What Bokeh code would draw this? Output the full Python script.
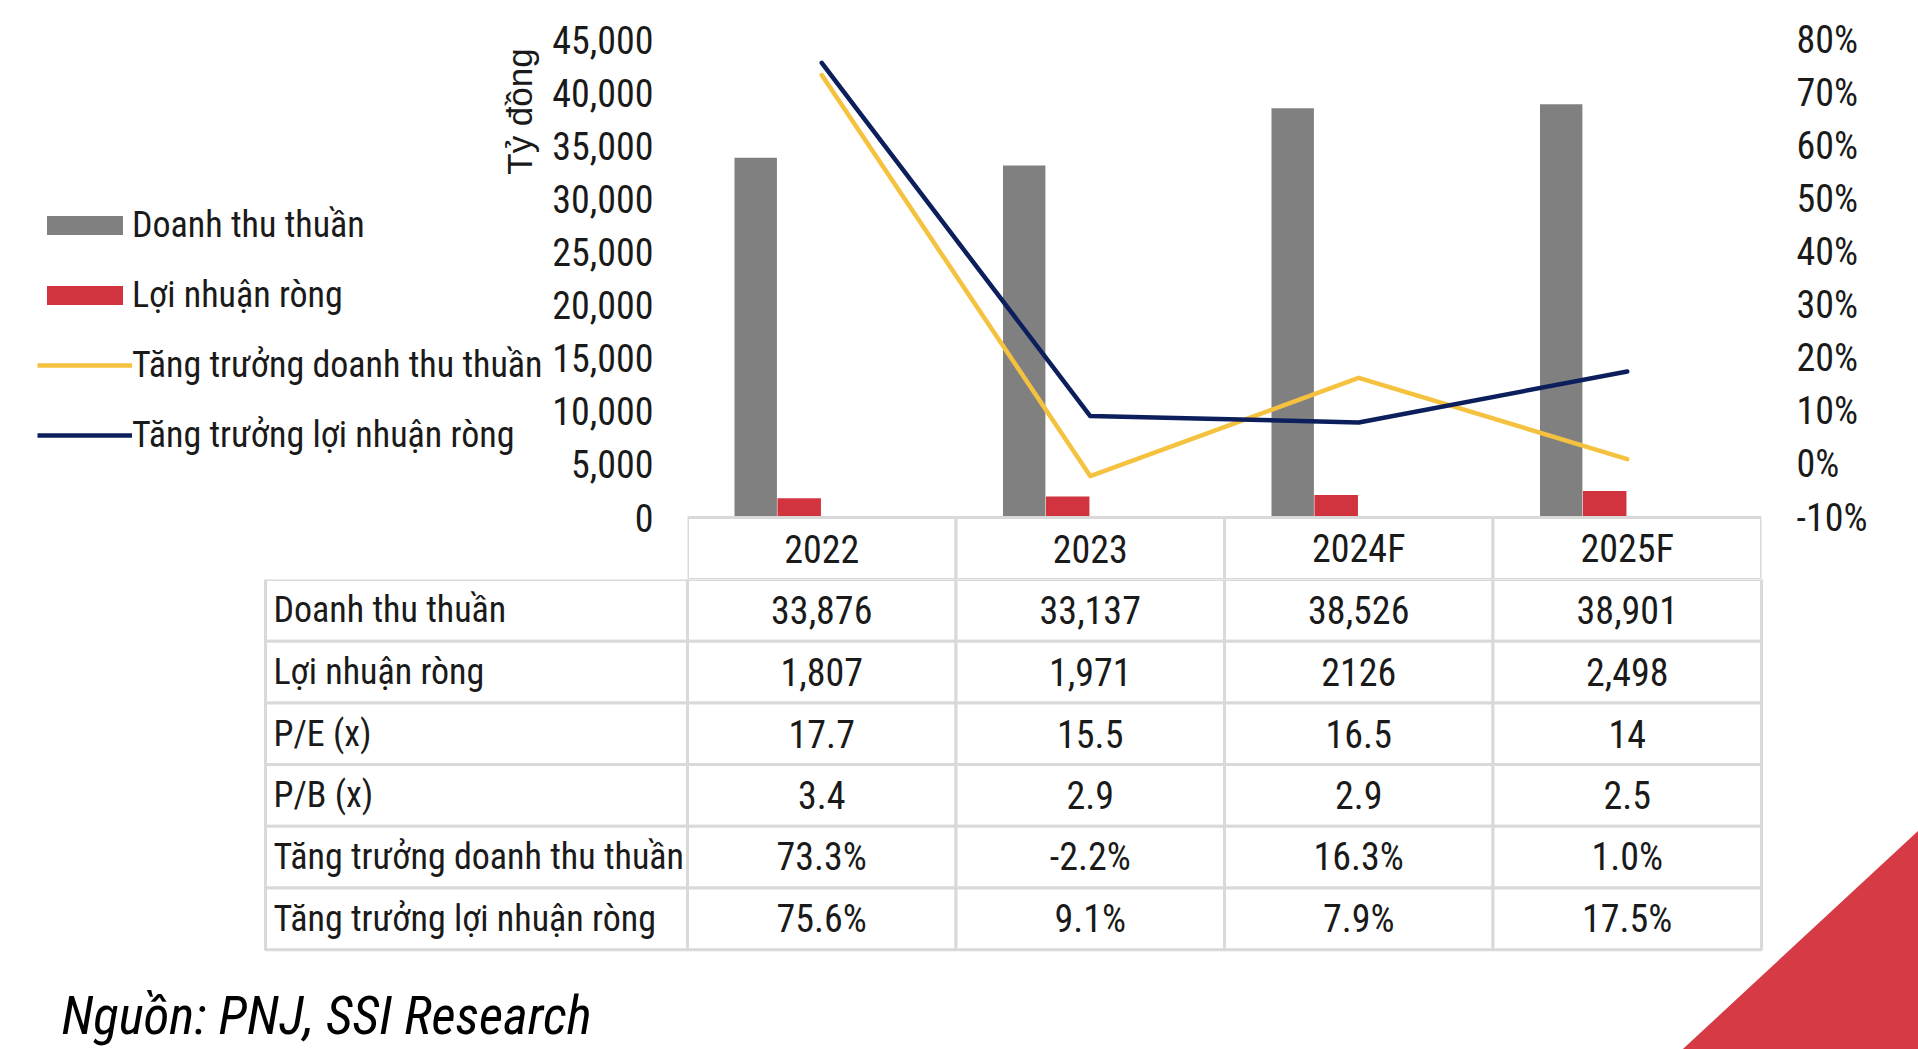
from math import pi
from bokeh.plotting import figure
from bokeh.models import (Range1d, FactorRange, LinearAxis, FixedTicker, NumeralTickFormatter,
                          PrintfTickFormatter, Legend, LegendItem, ColumnDataSource)
from bokeh.transform import dodge
from bokeh.layouts import row
from bokeh.core.properties import value
from bokeh.embed import file_html
from bokeh.resources import INLINE

# ---------------- data ----------------
years = ["2022", "2023", "2024F", "2025F"]
revenue = [33876, 33137, 38526, 38901]          # Doanh thu thuần (tỷ đồng)
profit = [1807, 1971, 2126, 2498]               # Lợi nhuận ròng (tỷ đồng)
rev_growth = [73.3, -2.2, 16.3, 1.0]            # %
profit_growth = [75.6, 9.1, 7.9, 17.5]          # %
left_ticks = [0, 5000, 10000, 15000, 20000, 25000, 30000, 35000, 40000, 45000]
right_ticks = [-10, 0, 10, 20, 30, 40, 50, 60, 70, 80]

series_names = ["Doanh thu thuần", "Lợi nhuận ròng",
                "Tăng trưởng doanh thu thuần", "Tăng trưởng lợi nhuận ròng"]
row_labels = ["Doanh thu thuần", "Lợi nhuận ròng", "P/E (x)", "P/B (x)",
              "Tăng trưởng doanh thu thuần", "Tăng trưởng lợi nhuận ròng"]
row_values = [
    ["33,876", "33,137", "38,526", "38,901"],
    ["1,807", "1,971", "2126", "2,498"],
    ["17.7", "15.5", "16.5", "14"],
    ["3.4", "2.9", "2.9", "2.5"],
    ["73.3%", "-2.2%", "16.3%", "1.0%"],
    ["75.6%", "9.1%", "7.9%", "17.5%"],
]
source_text = "Nguồn: PNJ, SSI Research"
y_title = "Tỷ đồng"

# ---------------- style ----------------
NARROW = "Roboto Condensed"
GRAY = "#808080"
RED = "#d1343e"
YELLOW = "#f4c23e"
NAVY = "#0c1f5c"
TXT = "#1a1a1a"
BORDER = "#d9d9d9"
FS = "38px"
FS_LAB = "36px"
LW = 4.5
PAGE_W, PAGE_H = 1918, 1049

# page geometry (px)
FRAME_L, FRAME_R = 687, 1761
TOP, BASE, HEAD_B = 39, 517, 579
ROW_H = 61.7
CHART_H = BASE - TOP
HEAD_H = HEAD_B - BASE
AXIS_W = 145
LEFT_W = FRAME_L - AXIS_W

# ---------------- chart (+ table header row) ----------------
src = ColumnDataSource(dict(year=years, rev=revenue, prof=profit, rg=rev_growth, pg=profit_growth))

ymax = left_ticks[-1]
pA = figure(width=PAGE_W - LEFT_W, height=HEAD_B, x_range=FactorRange(*years, range_padding=0),
            y_range=Range1d(-ymax * HEAD_H / CHART_H, ymax),
            x_axis_location=None, y_axis_location="left",
            output_backend="svg", toolbar_location=None,
            min_border_left=AXIS_W, min_border_right=PAGE_W - FRAME_R,
            min_border_top=TOP, min_border_bottom=0)
pA.outline_line_color = None
pA.grid.grid_line_color = None
pr0, pr1 = right_ticks[0], right_ticks[-1]
pA.extra_y_ranges = {
    "pct": Range1d(pr0 - (pr1 - pr0) * HEAD_H / CHART_H, pr1),
    "rows": Range1d(1, -CHART_H / HEAD_H),
}

pA.vbar(x=dodge("year", -0.246, range=pA.x_range), top="rev", width=0.158,
        source=src, fill_color=GRAY, line_color=None)
pA.vbar(x=dodge("year", -0.084, range=pA.x_range), top="prof", width=0.162,
        source=src, fill_color=RED, line_color=None)
pA.line(x="year", y="rg", source=src, y_range_name="pct", line_color=YELLOW,
        line_width=LW, line_cap="round", line_join="round")
pA.line(x="year", y="pg", source=src, y_range_name="pct", line_color=NAVY,
        line_width=LW, line_cap="round", line_join="round")

# header row of the data table (acts as category axis)
pA.rect(x=years, y=[0.5] * len(years), width=1, height=1, y_range_name="rows",
        fill_color="white", line_color=BORDER, line_width=3)
pA.text(x=years, y=[0.5] * len(years), text=years, y_range_name="rows",
        text_align="center", text_baseline="middle", text_font=value(NARROW),
        text_font_size=FS, text_color=TXT)

ly = pA.yaxis[0]
ly.ticker = FixedTicker(ticks=left_ticks)
ly.formatter = NumeralTickFormatter(format="0,0")
ry = LinearAxis(y_range_name="pct", ticker=FixedTicker(ticks=right_ticks),
                formatter=PrintfTickFormatter(format="%d%%"))
pA.add_layout(ry, "right")
for ax, st in ((ly, 34), (ry, 35)):
    ax.axis_line_color = None
    ax.major_tick_line_color = None
    ax.minor_tick_line_color = None
    ax.major_tick_out = 0
    ax.major_tick_in = 0
    ax.major_label_standoff = st
    ax.major_label_text_font = NARROW
    ax.major_label_text_font_size = FS
    ax.major_label_text_color = TXT

# ---------------- legend + axis title panel ----------------
pL = figure(width=LEFT_W, height=HEAD_B, x_range=Range1d(0, LEFT_W),
            y_range=Range1d(0, HEAD_B - TOP), x_axis_location=None, y_axis_location=None,
            min_border_left=0, min_border_right=0, min_border_top=TOP, min_border_bottom=0,
            output_backend="svg", toolbar_location=None)
pL.outline_line_color = None
pL.grid.grid_line_color = None
# legend proxies: one point each, placed far outside the visible range
g1 = pL.vbar(x=[-5000], bottom=[-5000], top=[-4999], width=1, fill_color=GRAY, line_color=None)
g2 = pL.vbar(x=[-5000], bottom=[-5000], top=[-4999], width=1, fill_color=RED, line_color=None)
g3 = pL.line(x=[-5001, -5000], y=[-5000, -5000], line_color=YELLOW, line_width=LW)
g4 = pL.line(x=[-5001, -5000], y=[-5000, -5000], line_color=NAVY, line_width=LW)
legend = Legend(items=[LegendItem(label=n, renderers=[g]) for n, g in zip(series_names, [g1, g2, g3, g4])],
                location=(37, HEAD_B - 460), orientation="vertical",
                glyph_width=95, glyph_height=24, label_standoff=0, label_height=50,
                spacing=20, padding=0, margin=0, border_line_color=None,
                background_fill_alpha=0, label_text_font=NARROW,
                label_text_font_size=FS_LAB, label_text_color=TXT)
pL.add_layout(legend)
pL.text(x=[519], y=[HEAD_B - 111], text=[y_title], angle=pi / 2, text_align="center",
        text_baseline="middle", text_font=value("Liberation Sans"), text_font_size="35px",
        text_color=TXT)

# ---------------- table body + source ----------------
UX = (FRAME_R - FRAME_L) / len(years)   # px per category
x0 = FRAME_L + UX / 2                   # page x of first category centre
HB = PAGE_H - HEAD_B
pB = figure(width=PAGE_W, height=HB,
            x_range=Range1d(-x0 / UX, (PAGE_W - x0) / UX),
            y_range=Range1d(1 + HB / ROW_H, 1),
            x_axis_location=None, y_axis_location=None, min_border=0,
            output_backend="svg", toolbar_location=None)
pB.outline_line_color = None
pB.grid.grid_line_color = None


def px(xp):
    return (xp - x0) / UX


def py(yp):
    return 1 + (yp - HEAD_B) / ROW_H


label_w = (FRAME_L - 265) / UX
cx, cy, cw = [], [], []
for r in range(len(row_labels)):
    cx.append(-0.5 - label_w / 2); cy.append(r + 1.5); cw.append(label_w)
    for c in range(len(years)):
        cx.append(c); cy.append(r + 1.5); cw.append(1)
pB.rect(x=cx, y=cy, width=cw, height=1, fill_color="white", line_color=BORDER, line_width=3)

tx, ty, tt = [], [], []
for r, vals in enumerate(row_values):
    for c, v in enumerate(vals):
        tx.append(c); ty.append(r + 1.5); tt.append(v)
pB.text(x=tx, y=ty, text=tt, text_align="center", text_baseline="middle",
        text_font=value(NARROW), text_font_size=FS, text_color=TXT)
pB.text(x=[-0.5 - label_w + 8 / UX] * len(row_labels), y=[r + 1.5 for r in range(len(row_labels))],
        text=row_labels, text_align="left", text_baseline="middle",
        text_font=value(NARROW), text_font_size=FS_LAB, text_color=TXT)

pB.text(x=[px(61)], y=[py(1015)], text=[source_text], text_align="left", text_baseline="middle",
        text_font=value(NARROW), text_font_style="italic", text_font_size="53px", text_color="black")

# decorative corner triangle
pB.patch(x=[px(1930), px(1930), px(1670)], y=[py(819), py(1060), py(1060)],
         fill_color="#d63b45", line_color=None)

open("out.html", "w").write(file_html([row(pL, pA, spacing=0), pB], INLINE))
